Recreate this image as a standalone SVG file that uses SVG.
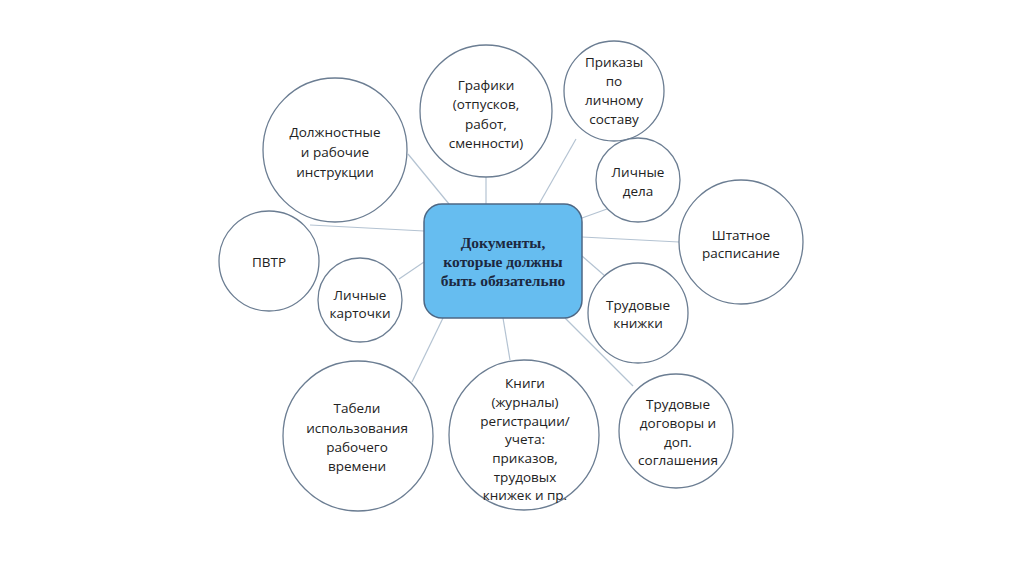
<svg xmlns="http://www.w3.org/2000/svg" width="1024" height="574" viewBox="0 0 1024 574">
<style>
.c{fill:#fff;stroke:#6b7d92;stroke-width:1.3}
.t{font-family:"Open Sans","Liberation Sans",sans-serif;font-size:13.5px;fill:#222;text-anchor:middle}
.ct{font-family:"Liberation Serif",serif;font-weight:bold;font-size:15.5px;fill:#1c2840;text-anchor:middle}
.ln{stroke:#b4c3d2;stroke-width:1.2;fill:none}
</style>
<rect width="1024" height="574" fill="#fff"/>
<g id="connectors">
<line class="ln" x1="449" y1="204" x2="408" y2="154"/>
<line class="ln" x1="486" y1="204" x2="486" y2="177"/>
<line class="ln" x1="539" y1="204" x2="576" y2="139"/>
<line class="ln" x1="582" y1="218" x2="607" y2="209"/>
<line class="ln" x1="582" y1="237" x2="679" y2="242"/>
<line class="ln" x1="582" y1="256" x2="605" y2="276"/>
<line class="ln" x1="565" y1="318" x2="633" y2="386"/>
<line class="ln" x1="503" y1="318" x2="510" y2="360"/>
<line class="ln" x1="443" y1="318" x2="412" y2="382"/>
<line class="ln" x1="424" y1="262" x2="399" y2="279"/>
<line class="ln" x1="310" y1="225" x2="424" y2="231"/>
</g>
<g id="center">
<rect x="424" y="204" width="158" height="114" rx="18" fill="#66bdf0" stroke="#4d6784" stroke-width="1.5"/>
<text class="ct" x="503" y="248">Документы,</text>
<text class="ct" x="503" y="267">которые должны</text>
<text class="ct" x="503" y="286">быть обязательно</text>
</g>
<g id="n1">
<circle class="c" cx="335" cy="150" r="72"/>
<text class="t" x="335" y="137">Должностные</text>
<text class="t" x="335" y="157">и рабочие</text>
<text class="t" x="335" y="177">инструкции</text>
</g>
<g id="n2">
<circle class="c" cx="486" cy="111" r="66"/>
<text class="t" x="486" y="90">Графики</text>
<text class="t" x="486" y="109">(отпусков,</text>
<text class="t" x="486" y="129">работ,</text>
<text class="t" x="486" y="148">сменности)</text>
</g>
<g id="n3">
<circle class="c" cx="614" cy="91" r="50"/>
<text class="t" x="614" y="67">Приказы</text>
<text class="t" x="614" y="86">по</text>
<text class="t" x="614" y="105">личному</text>
<text class="t" x="614" y="124">составу</text>
</g>
<g id="n4">
<circle class="c" cx="638" cy="180" r="42"/>
<text class="t" x="638" y="177">Личные</text>
<text class="t" x="638" y="196">дела</text>
</g>
<g id="n5">
<circle class="c" cx="741" cy="242" r="62"/>
<text class="t" x="741" y="240">Штатное</text>
<text class="t" x="741" y="258">расписание</text>
</g>
<g id="n6">
<circle class="c" cx="638" cy="313" r="50"/>
<text class="t" x="638" y="310">Трудовые</text>
<text class="t" x="638" y="328">книжки</text>
</g>
<g id="n7">
<circle class="c" cx="676" cy="431" r="57"/>
<text class="t" x="678" y="409">Трудовые</text>
<text class="t" x="678" y="428">договоры и</text>
<text class="t" x="678" y="447">доп.</text>
<text class="t" x="678" y="465">соглашения</text>
</g>
<g id="n8">
<circle class="c" cx="524" cy="435" r="75"/>
<text class="t" x="525" y="388">Книги</text>
<text class="t" x="525" y="407">(журналы)</text>
<text class="t" x="525" y="426">регистрации/</text>
<text class="t" x="525" y="444">учета:</text>
<text class="t" x="525" y="463">приказов,</text>
<text class="t" x="525" y="482">трудовых</text>
<text class="t" x="525" y="500">книжек и пр.</text>
</g>
<g id="n9">
<circle class="c" cx="358" cy="436" r="75"/>
<text class="t" x="357" y="413">Табели</text>
<text class="t" x="357" y="433">использования</text>
<text class="t" x="357" y="452">рабочего</text>
<text class="t" x="357" y="471">времени</text>
</g>
<g id="n10">
<circle class="c" cx="360" cy="300" r="42"/>
<text class="t" x="360" y="300">Личные</text>
<text class="t" x="360" y="318">карточки</text>
</g>
<g id="n11">
<circle class="c" cx="269" cy="261" r="50"/>
<text class="t" x="269" y="267">ПВТР</text>
</g>
</svg>
